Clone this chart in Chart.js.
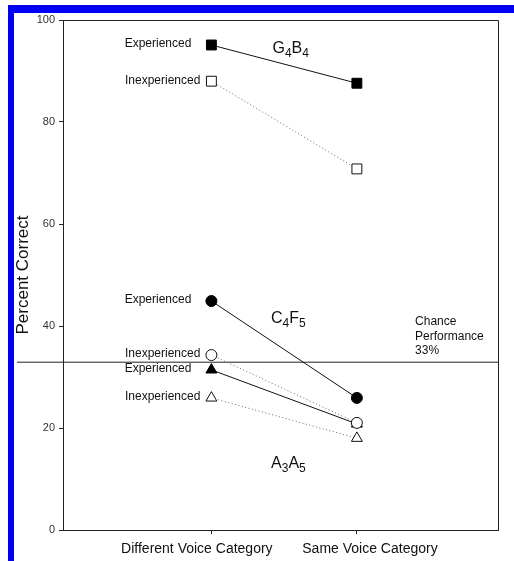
<!DOCTYPE html>
<html>
<head>
<meta charset="utf-8">
<script src="https://cdn.jsdelivr.net/npm/chart.js@4.4.1/dist/chart.umd.min.js"></script>
<style>
    html, body { margin: 0; padding: 0; background: #fff; }
    #wrap { position: relative; width: 514px; height: 561px; overflow: hidden; }
    #frame {
        position: absolute; left: 8px; top: 5px; width: 506px; height: 556px;
        border-top: 8px solid #0000f5; border-left: 6px solid #0000f5;
        box-sizing: border-box;
    }
    #chartRecognition { position: absolute; left: 0; top: 0; }
</style>
</head>
<body>
<div id="wrap">
    <div id="frame"></div>
    <canvas id="chartRecognition" width="514" height="561"></canvas>
</div>
<script>
// Percent correct by voice category, experienced vs inexperienced listeners

const categories = ['Different Voice Category', 'Same Voice Category'];
const yTicks = [0, 20, 40, 60, 80, 100];
const chanceLevel = 33;

const g4b4Experienced = [95.1, 87.6];
const g4b4Inexperienced = [88.0, 70.8];
const c4f5Experienced = [44.9, 25.9];
const c4f5Inexperienced = [34.3, 21.0];
const a3a5Experienced = [31.4, 20.8];
const a3a5Inexperienced = [25.9, 18.0];

const FONT = "'Liberation Sans', Arial, sans-serif";

function toPoints(values) {
    return values.map((v, i) => ({ x: i, y: v }));
}

function radiusFor(style) {
    if (style === 'rect') return 7;
    if (style === 'triangle') return 6.3;
    return 5.5;
}

function experienced(values, style, order) {
    return {
        label: 'Experienced',
        data: toPoints(values),
        borderColor: '#111',
        borderWidth: 1,
        pointStyle: style,
        pointRadius: radiusFor(style),
        pointBackgroundColor: '#000',
        pointBorderColor: '#000',
        pointBorderWidth: 1,
        order: order
    };
}

function inexperienced(values, style, order) {
    return {
        label: 'Inexperienced',
        data: toPoints(values),
        borderColor: '#666',
        borderWidth: 1,
        borderDash: [1, 2.5],
        pointStyle: style,
        pointRadius: radiusFor(style),
        pointBackgroundColor: '#fff',
        pointBorderColor: '#111',
        pointBorderWidth: 1,
        order: order
    };
}

const annotations = {
    id: 'annotations',
    beforeDatasetsDraw(chart) {
        const { ctx, chartArea, scales } = chart;
        const y = scales.y.getPixelForValue(chanceLevel);
        ctx.save();
        ctx.strokeStyle = '#222';
        ctx.lineWidth = 1;
        ctx.beginPath();
        ctx.moveTo(17, y + 0.5);
        ctx.lineTo(chartArea.right, y + 0.5);
        ctx.stroke();
        // top and right frame
        ctx.beginPath();
        ctx.moveTo(chartArea.left, chartArea.top + 0.5);
        ctx.lineTo(chartArea.right + 0.5, chartArea.top + 0.5);
        ctx.lineTo(chartArea.right + 0.5, chartArea.bottom);
        ctx.stroke();
        ctx.restore();
    },
    afterDatasetsDraw(chart) {
        const { ctx, scales, chartArea } = chart;
        ctx.save();
        ctx.fillStyle = '#111';
        ctx.font = '12px ' + FONT;
        ctx.textAlign = 'right';
        ctx.textBaseline = 'middle';
        chart.data.datasets.forEach((ds, i) => {
            const p = chart.getDatasetMeta(i).data[0];
            const gap = ds.label === 'Experienced' ? 20 : 11;
            ctx.fillText(ds.label, p.x - gap, p.y - 1);
        });

        // chance label
        const cy = scales.y.getPixelForValue(chanceLevel);
        const cx = scales.x.getPixelForValue(1.4);
        ctx.textAlign = 'left';
        ['Chance', 'Performance', '33%'].forEach((t, i) => {
            ctx.fillText(t, cx, cy - 40 + i * 14.5);
        });

        // category labels, set a little off the tick marks as in the original
        ctx.font = '14px ' + FONT;
        ctx.textAlign = 'center';
        const shift = [-0.1, 0.09];
        categories.forEach((c, i) => {
            ctx.fillText(c, scales.x.getPixelForValue(i + shift[i]), chartArea.bottom + 19);
        });

        // group names with subscripts
        ctx.textAlign = 'left';
        const groups = [
            { parts: ['G', '4', 'B', '4'], x: 0.42, y: 94.3 },
            { parts: ['C', '4', 'F', '5'], x: 0.41, y: 41.4 },
            { parts: ['A', '3', 'A', '5'], x: 0.41, y: 13.1 }
        ];
        groups.forEach(g => {
            let x = scales.x.getPixelForValue(g.x);
            const y = scales.y.getPixelForValue(g.y);
            g.parts.forEach((t, i) => {
                const sub = i % 2 === 1;
                ctx.font = (sub ? '12px ' : '16px ') + FONT;
                ctx.fillText(t, x, sub ? y + 5 : y);
                x += ctx.measureText(t).width;
            });
        });
        ctx.restore();
    }
};

new Chart(document.getElementById('chartRecognition'), {
    type: 'line',
    data: {
        datasets: [
            experienced(g4b4Experienced, 'rect', 1),
            inexperienced(g4b4Inexperienced, 'rect', 1),
            experienced(c4f5Experienced, 'circle', 1),
            inexperienced(c4f5Inexperienced, 'circle', 0),
            experienced(a3a5Experienced, 'triangle', 2),
            inexperienced(a3a5Inexperienced, 'triangle', 1)
        ]
    },
    options: {
        responsive: false,
        animation: false,
        devicePixelRatio: 1,
        layout: { padding: { top: 20, right: 16, left: 0, bottom: 0 } },
        plugins: {
            legend: { display: false },
            tooltip: { enabled: false }
        },
        scales: {
            x: {
                type: 'linear',
                min: -1.02,
                max: 1.97,
                afterBuildTicks(scale) {
                    scale.ticks = categories.map((c, i) => ({ value: i }));
                },
                afterFit(scale) { scale.height = 31; },
                ticks: { display: false },
                grid: {
                    drawOnChartArea: false,
                    tickLength: 4,
                    color: '#222'
                },
                border: { color: '#222', width: 1 }
            },
            y: {
                min: 0,
                max: 100,
                afterBuildTicks(scale) {
                    scale.ticks = yTicks.map(v => ({ value: v }));
                },
                afterFit(scale) { scale.width = 63; },
                title: {
                    display: true,
                    text: 'Percent Correct',
                    color: '#111',
                    font: { family: FONT, size: 17 },
                    padding: { top: 13, bottom: 0 }
                },
                ticks: {
                    color: '#333',
                    font: { family: FONT, size: 11 },
                    padding: 4
                },
                grid: {
                    drawOnChartArea: false,
                    tickLength: 4,
                    color: '#222'
                },
                border: { color: '#222', width: 1 }
            }
        }
    },
    plugins: [annotations]
});
</script>
</body>
</html>
